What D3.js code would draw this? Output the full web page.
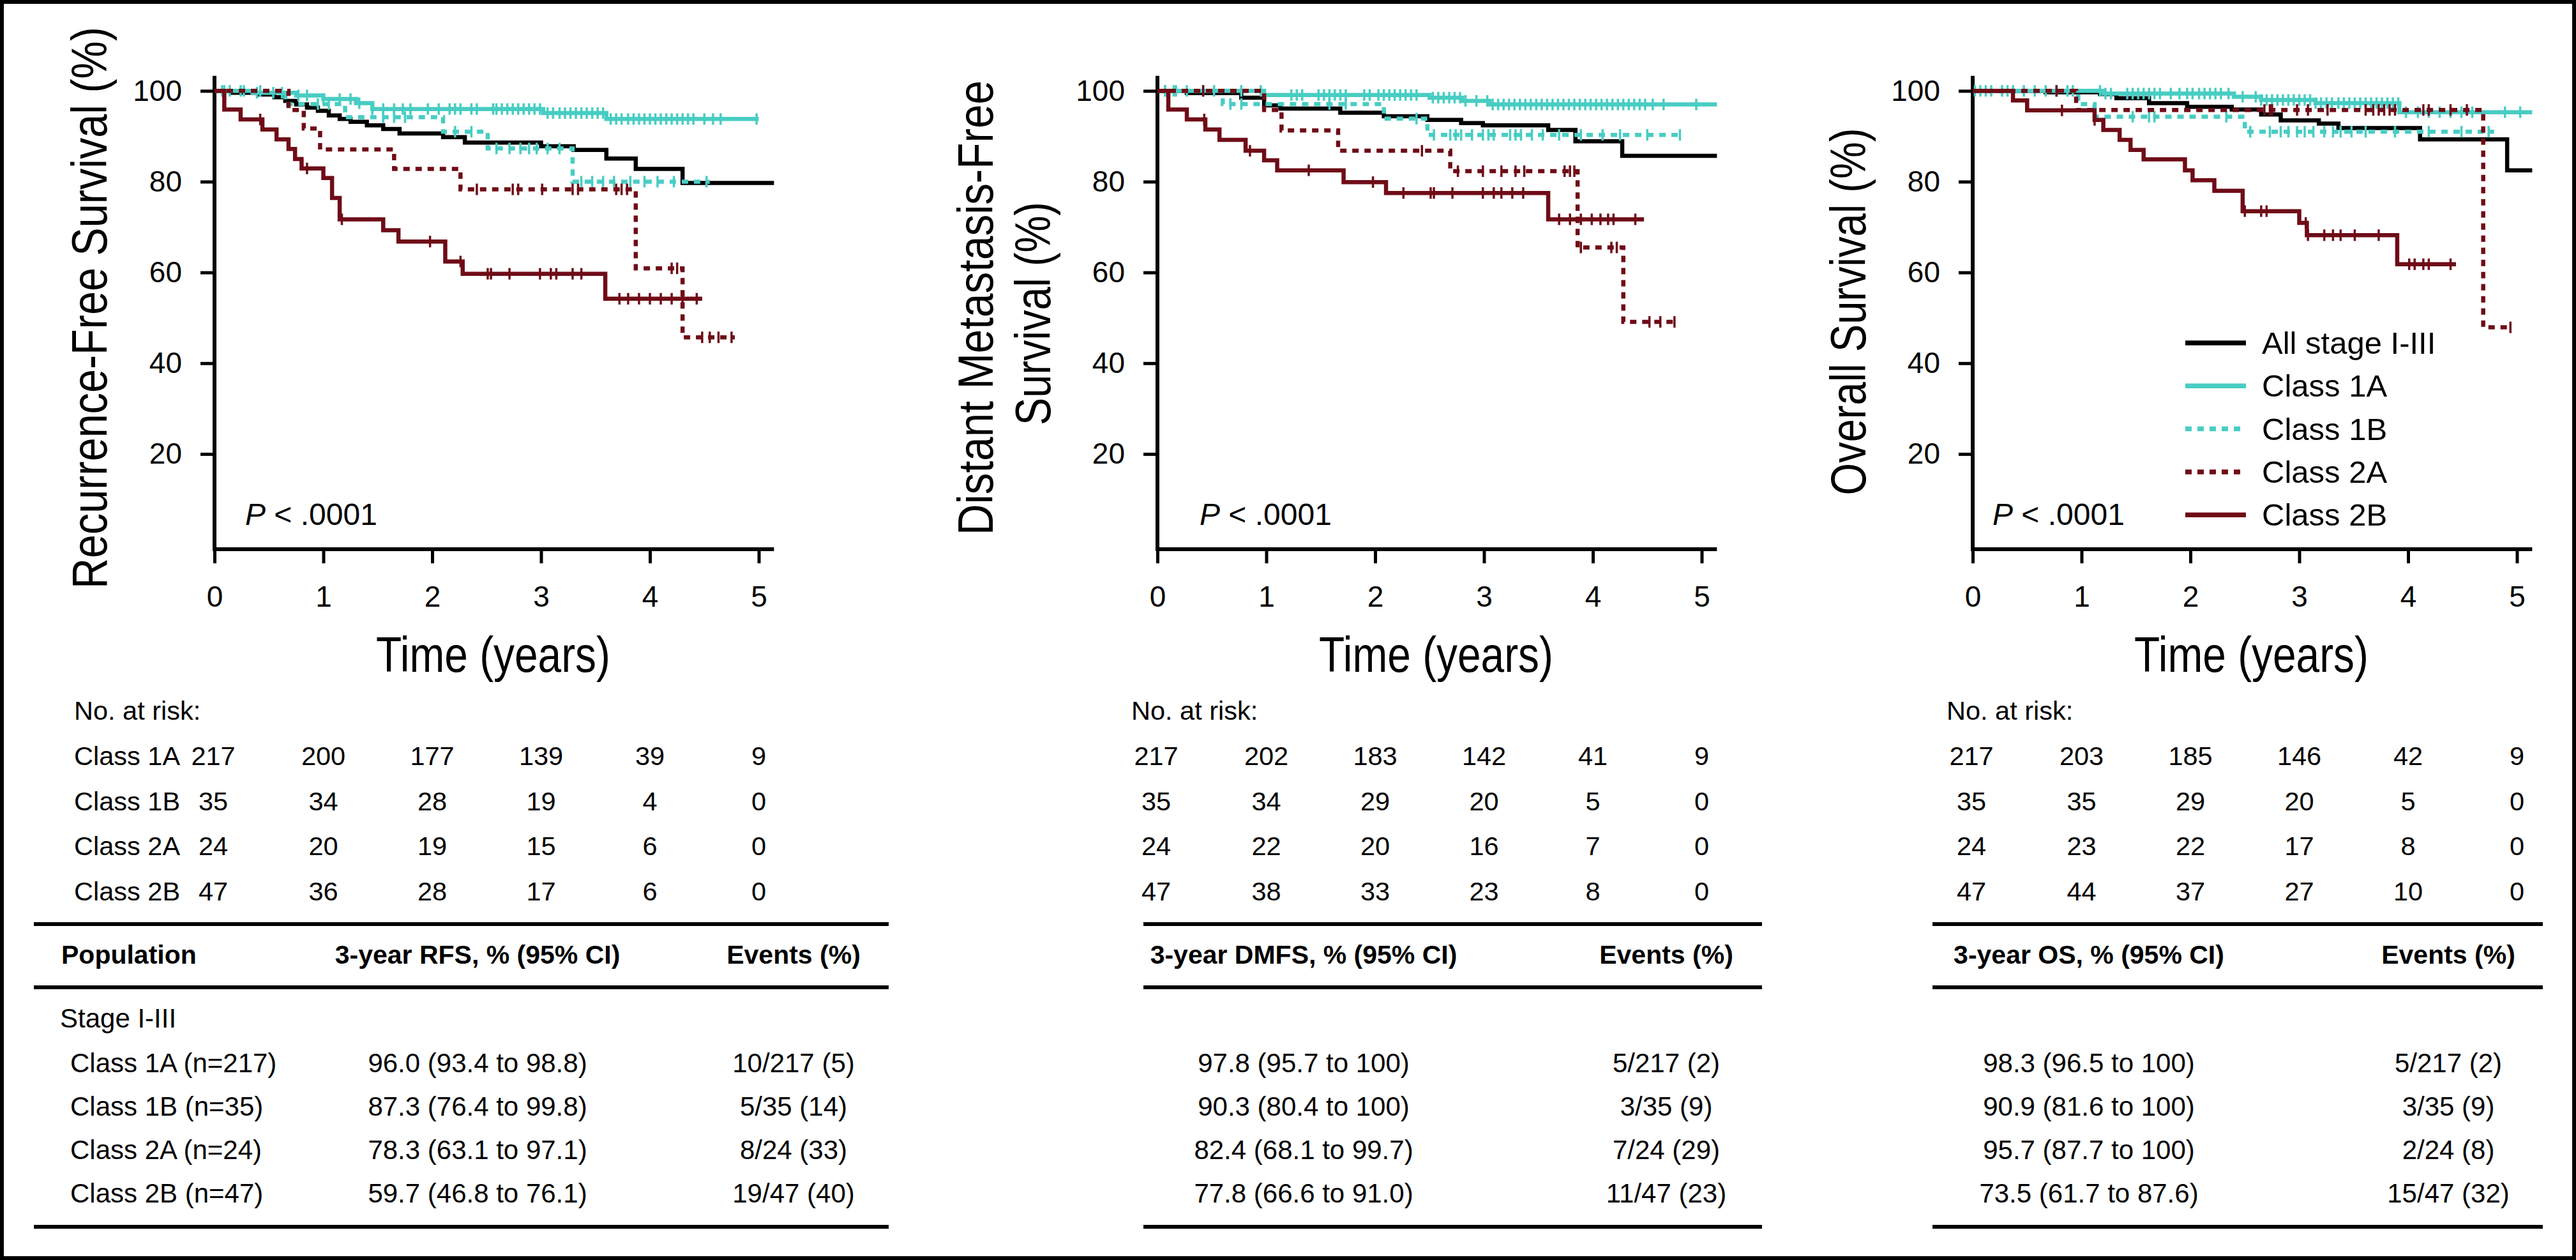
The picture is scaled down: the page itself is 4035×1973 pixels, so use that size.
<!DOCTYPE html>
<html><head><meta charset="utf-8">
<script src="https://cdn.jsdelivr.net/npm/d3@7"></script>
<style>
body{margin:0;background:#fff}
svg{display:block}
text{font-family:"Liberation Sans",Arial,Helvetica,sans-serif;fill:#000}
</style></head>
<body><svg id="chart" width="4035" height="1973"></svg>
<script>
// ---------------- DATA ----------------
const timeTicks = [0, 1, 2, 3, 4, 5];
const survTicks = [20, 40, 60, 80, 100];
const legendLabels = ["All stage I-III", "Class 1A", "Class 1B", "Class 2A", "Class 2B"];
const riskClasses = ["Class 1A", "Class 1B", "Class 2A", "Class 2B"];
const yTitles = [["Recurrence-Free Survival (%)"], ["Distant Metastasis-Free", "Survival (%)"], ["Overall Survival (%)"]];
const xTitle = "Time (years)";
const pValue = " < .0001";

// Kaplan-Meier steps: [time (years), survival % from that time]; last point = end of follow-up
const rfsAll = [[0,100],[0.15,99.6],[0.4,99.2],[0.55,98.6],[0.65,97.8],[0.75,97.0],[0.85,96.3],[0.95,95.6],[1.05,94.6],[1.15,93.8],[1.25,93.2],[1.4,92.4],[1.55,91.6],[1.7,90.6],[2.1,89.8],[2.3,88.6],[3.0,87.8],[3.3,87.0],[3.6,85.1],[3.87,82.8],[4.3,79.7],[5.14,79.7]];
const rfs1A = [[0,100],[0.35,99.6],[0.75,99.0],[1.0,98.2],[1.3,97.3],[1.45,96.0],[3.02,95.1],[3.6,93.8],[5.0,93.8]];
const rfs1B = [[0,100],[0.65,97.1],[1.2,94.2],[2.1,91.0],[2.51,87.3],[3.29,80.0],[4.55,80.0]];
const rfs2A = [[0,100],[0.68,95.8],[0.82,91.7],[0.97,87.1],[1.65,82.8],[2.26,78.3],[3.87,60.9],[4.3,45.7],[4.78,45.7]];
const rfs2B = [[0,100],[0.09,95.9],[0.24,93.7],[0.44,91.5],[0.57,89.3],[0.68,87.2],[0.74,85.0],[0.8,82.9],[1.0,80.8],[1.08,76.4],[1.15,71.7],[1.55,69.3],[1.69,66.8],[2.12,62.4],[2.28,59.7],[3.59,54.2],[4.48,54.2]];
const rfs1ACens = [0.07,0.14,0.27,0.39,0.54,0.62,0.77,0.85,1.0,1.15,1.25,1.33,1.45,1.55,1.65,1.73,1.8,1.96,2.06,2.16,2.21,2.26,2.36,2.41,2.56,2.59,2.64,2.69,2.74,2.79,2.84,2.89,2.94,2.99,3.06,3.11,3.17,3.22,3.27,3.32,3.37,3.42,3.47,3.52,3.57,3.64,3.69,3.74,3.8,3.85,3.9,3.95,4.0,4.05,4.1,4.15,4.2,4.25,4.3,4.35,4.4,4.5,4.58,4.65,4.98];
const rfs1BCens = [0.09,0.24,0.42,0.95,1.05,1.55,1.65,1.75,2.21,2.36,2.59,2.71,2.81,2.89,2.96,3.06,3.17,3.37,3.47,3.57,3.67,3.82,3.95,4.07,4.22,4.52];
const rfs2ACens = [2.41,2.74,2.79,3.01,3.29,3.34,3.69,3.74,3.79,4.2,4.25,4.48,4.55,4.63,4.75];
const rfs2BCens = [0.42,0.85,1.17,1.98,2.26,2.51,2.54,2.71,2.99,3.09,3.14,3.29,3.37,3.72,3.8,3.9,4.0,4.1,4.2,4.3,4.43];

const dmfsAll = [[0,100],[0.27,99.5],[0.77,98.5],[0.98,96.8],[1.13,96.1],[1.68,95.2],[2.08,94.4],[2.48,93.6],[2.79,92.9],[2.99,92.4],[3.59,91.4],[3.84,88.9],[4.27,85.7],[5.14,85.7]];
const dmfs1A = [[0,100],[0.98,99.1],[2.5,98.5],[2.8,97.8],[3.05,97.0],[5.14,97.0]];
const dmfs1B = [[0,100],[0.6,97.1],[2.08,93.9],[2.48,90.3],[4.82,90.3]];
const dmfs2A = [[0,100],[0.98,95.8],[1.14,91.3],[1.66,86.8],[2.69,82.3],[3.86,65.5],[4.28,49.1],[4.77,49.1]];
const dmfs2B = [[0,100],[0.1,95.9],[0.27,93.7],[0.44,91.5],[0.57,89.2],[0.81,86.8],[0.98,84.7],[1.1,82.5],[1.71,79.9],[2.1,77.5],[3.59,71.7],[4.47,71.7]];
const dmfs1ACens = [0.07,0.15,0.27,0.42,0.52,0.77,0.95,1.23,1.28,1.33,1.48,1.53,1.58,1.63,1.68,1.73,1.9,1.95,2.03,2.08,2.13,2.18,2.23,2.28,2.33,2.38,2.53,2.58,2.63,2.68,2.73,2.78,2.83,2.93,3.03,3.08,3.13,3.18,3.23,3.28,3.33,3.38,3.43,3.48,3.53,3.58,3.63,3.68,3.73,3.78,3.83,3.88,3.93,3.98,4.03,4.08,4.13,4.18,4.23,4.28,4.33,4.38,4.43,4.48,4.55,4.65,4.95];
const dmfs1BCens = [0.07,0.17,0.67,0.77,1.58,1.73,2.38,2.54,2.69,2.74,2.79,2.89,2.99,3.04,3.09,3.24,3.29,3.34,3.44,3.54,3.69,3.89,4.09,4.25,4.5,4.8];
const dmfs2ACens = [0.42,2.43,2.76,2.99,3.16,3.29,3.37,3.74,3.79,3.83,3.89,4.17,4.22,4.52,4.62,4.75];
const dmfs2BCens = [0.43,0.85,1.39,1.98,2.26,2.51,2.54,2.71,2.99,3.09,3.16,3.26,3.36,3.69,3.79,3.89,3.99,4.07,4.14,4.19,4.39];

const osAll = [[0,100],[0.67,99.7],[1.17,99.3],[1.32,98.4],[1.62,97.3],[1.97,96.5],[2.38,95.9],[2.65,94.8],[2.83,93.5],[3.18,92.8],[3.36,91.8],[4.11,89.3],[4.91,82.5],[5.14,82.5]];
const os1A = [[0,100],[1.2,99.4],[2.4,98.7],[2.65,98.0],[3.15,97.3],[3.92,95.3],[5.14,95.3]];
const os1B = [[0,100],[0.97,97.1],[1.12,94.3],[2.5,91.0],[4.79,91.0]];
const os2A = [[0,100],[0.95,95.8],[4.69,47.9],[4.96,47.9]];
const os2B = [[0,100],[0.37,97.9],[0.5,95.7],[1.12,93.6],[1.2,91.4],[1.35,89.2],[1.45,87.0],[1.57,84.9],[1.95,82.5],[2.02,80.3],[2.22,78.0],[2.48,73.5],[3.0,70.9],[3.07,68.2],[3.9,61.8],[4.44,61.8]];
const os1ACens = [0.02,0.07,0.17,0.27,0.37,0.47,0.57,0.67,0.77,0.92,1.17,1.22,1.27,1.42,1.47,1.52,1.57,1.62,1.67,1.72,1.82,1.9,1.97,2.02,2.08,2.13,2.18,2.23,2.28,2.35,2.48,2.6,2.65,2.7,2.75,2.8,2.85,2.9,2.95,3.0,3.05,3.1,3.15,3.2,3.25,3.3,3.36,3.41,3.46,3.51,3.56,3.61,3.66,3.71,3.76,3.81,3.86,3.91,3.98,4.09,4.19,4.29,4.39,4.49,4.59,4.89,5.03];
const os1BCens = [0.12,0.32,0.87,1.47,1.62,1.67,2.33,2.55,2.73,2.83,2.9,2.98,3.05,3.13,3.23,3.31,3.38,3.48,3.61,3.88,4.19,4.49,4.74];
const os2ACens = [0.77,2.68,2.73,2.75,2.98,3.08,3.26,3.61,3.68,3.73,3.78,3.83,3.88,4.14,4.19,4.39,4.54,4.94];
const os2BCens = [0.82,1.12,2.5,2.65,2.7,3.06,3.08,3.23,3.31,3.38,3.51,3.73,4.01,4.06,4.14,4.19,4.39];

// Numbers at risk at 0..5 years
const rfsRisk1A = [217,200,177,139,39,9], rfsRisk1B = [35,34,28,19,4,0], rfsRisk2A = [24,20,19,15,6,0], rfsRisk2B = [47,36,28,17,6,0];
const dmfsRisk1A = [217,202,183,142,41,9], dmfsRisk1B = [35,34,29,20,5,0], dmfsRisk2A = [24,22,20,16,7,0], dmfsRisk2B = [47,38,33,23,8,0];
const osRisk1A = [217,203,185,146,42,9], osRisk1B = [35,35,29,20,5,0], osRisk2A = [24,23,22,17,8,0], osRisk2B = [47,44,37,27,10,0];

// Summary table
const statHeaders = ["3-year RFS, % (95% CI)", "3-year DMFS, % (95% CI)", "3-year OS, % (95% CI)"];
const popLabels = ["Class 1A (n=217)", "Class 1B (n=35)", "Class 2A (n=24)", "Class 2B (n=47)"];
const rfsStat = ["96.0 (93.4 to 98.8)", "87.3 (76.4 to 99.8)", "78.3 (63.1 to 97.1)", "59.7 (46.8 to 76.1)"];
const rfsEvents = ["10/217 (5)", "5/35 (14)", "8/24 (33)", "19/47 (40)"];
const dmfsStat = ["97.8 (95.7 to 100)", "90.3 (80.4 to 100)", "82.4 (68.1 to 99.7)", "77.8 (66.6 to 91.0)"];
const dmfsEvents = ["5/217 (2)", "3/35 (9)", "7/24 (29)", "11/47 (23)"];
const osStat = ["98.3 (96.5 to 100)", "90.9 (81.6 to 100)", "95.7 (87.7 to 100)", "73.5 (61.7 to 87.6)"];
const osEvents = ["5/217 (2)", "3/35 (9)", "2/24 (8)", "15/47 (32)"];

// ---------------- DRAW ----------------
const W = 4035, H = 1973;
const TEAL = "#48cdc3", MAROON = "#6f0c17", BLACK = "#000";
const seriesStyle = [
  {color: BLACK, dash: null},
  {color: TEAL, dash: null},
  {color: TEAL, dash: "10,9"},
  {color: MAROON, dash: "10,9"},
  {color: MAROON, dash: null}
];
const svg = d3.select("#chart");
svg.append("rect").attr("x", 3).attr("y", 3).attr("width", W - 6).attr("height", H - 6)
  .attr("fill", "#fff").attr("stroke", "#000").attr("stroke-width", 6);

const panels = [
  {x0: 336, steps: [rfsAll, rfs1A, rfs1B, rfs2A, rfs2B], cens: [[], rfs1ACens, rfs1BCens, rfs2ACens, rfs2BCens],
   risk: [rfsRisk1A, rfsRisk1B, rfsRisk2A, rfsRisk2B], stat: rfsStat, events: rfsEvents,
   titleX: [167], titleY: [482], titleLen: [880], pX: 384, riskX: 116, showClass: true, legend: false,
   line: [53, 1392], headC: 748, evC: 1243},
  {x0: 1813, steps: [dmfsAll, dmfs1A, dmfs1B, dmfs2A, dmfs2B], cens: [[], dmfs1ACens, dmfs1BCens, dmfs2ACens, dmfs2BCens],
   risk: [dmfsRisk1A, dmfsRisk1B, dmfsRisk2A, dmfsRisk2B], stat: dmfsStat, events: dmfsEvents,
   titleX: [1555, 1645], titleY: [482, 491], titleLen: [712, 350], pX: 1879, riskX: 1772, showClass: false, legend: false,
   line: [1791, 2760], headC: 2042, evC: 2610},
  {x0: 3090, steps: [osAll, os1A, os1B, os2A, os2B], cens: [[], os1ACens, os1BCens, os2ACens, os2BCens],
   risk: [osRisk1A, osRisk1B, osRisk2A, osRisk2B], stat: osStat, events: osEvents,
   titleX: [2922], titleY: [488], titleLen: [575], pX: 3121, riskX: 3049, showClass: false, legend: true,
   line: [3027, 3983], headC: 3272, evC: 3835}
];

const PX_PER_YEAR = 170.5;
const riskRowY = [1198, 1268.5, 1339, 1409.5];
const bodyRowY = [1679, 1747, 1815, 1883];

function valueAt(steps, t) {
  let v = steps[0][1];
  for (const s of steps) { if (s[0] <= t) v = s[1]; }
  return v;
}

// condensed title text: scale along the baseline to the measured length
function condensedText(g, str, tx, ty, rot, len) {
  const t = g.append("text").attr("text-anchor", "middle").attr("font-size", 78).text(str);
  const natural = t.node().getComputedTextLength();
  const k = len / natural;
  t.attr("transform", `translate(${tx},${ty})${rot ? " rotate(-90)" : ""} scale(${k},1)`);
  return t;
}

panels.forEach((p, pi) => {
  const x = d3.scaleLinear().domain([0, 5.14]).range([p.x0, p.x0 + 5.14 * PX_PER_YEAR]);
  const y = d3.scaleLinear().domain([0, 100]).range([853, 142.3]);
  const g = svg.append("g");
  const axisY = y(-1);

  // axes
  const ya = g.append("g").attr("transform", `translate(${p.x0},0)`)
    .call(d3.axisLeft(y).tickValues(survTicks).tickFormat(d3.format("d")).tickSize(22).tickPadding(29).tickSizeOuter(0));
  ya.select(".domain").remove();
  ya.selectAll("line").attr("stroke", "#000").attr("stroke-width", 5);
  ya.selectAll("text").attr("font-size", 46).attr("font-family", "Liberation Sans, Arial, sans-serif");

  const xa = g.append("g").attr("transform", `translate(0,${axisY})`)
    .call(d3.axisBottom(x).tickValues(timeTicks).tickFormat(d3.format("d")).tickSize(22).tickPadding(35).tickSizeOuter(0));
  xa.select(".domain").remove();
  xa.selectAll("line").attr("stroke", "#000").attr("stroke-width", 5);
  xa.selectAll("text").attr("font-size", 46).attr("font-family", "Liberation Sans, Arial, sans-serif");

  g.append("line").attr("x1", p.x0).attr("x2", p.x0).attr("y1", y(103.3)).attr("y2", axisY + 3)
    .attr("stroke", "#000").attr("stroke-width", 6);
  g.append("line").attr("x1", p.x0 - 3).attr("x2", x(5.14)).attr("y1", axisY).attr("y2", axisY)
    .attr("stroke", "#000").attr("stroke-width", 6);

  // curves
  const line = d3.line().x(d => x(d[0])).y(d => y(d[1])).curve(d3.curveStepAfter);
  p.steps.forEach((st, si) => {
    const s = seriesStyle[si];
    g.append("path").attr("d", line(st)).attr("fill", "none").attr("stroke", s.color)
      .attr("stroke-width", 6.5).attr("stroke-dasharray", s.dash);
    g.selectAll(null).data(p.cens[si]).enter().append("line")
      .attr("x1", d => x(d)).attr("x2", d => x(d))
      .attr("y1", d => y(valueAt(st, d)) - 9).attr("y2", d => y(valueAt(st, d)) + 9)
      .attr("stroke", s.color).attr("stroke-width", 3.5);
  });

  // titles
  yTitles[pi].forEach((t, li) => condensedText(g, t, p.titleX[li], p.titleY[li], true, p.titleLen[li]));
  condensedText(g, xTitle, x(2.56), 1052, false, 367);

  const pt = g.append("text").attr("x", p.pX).attr("y", 822).attr("font-size", 48);
  pt.append("tspan").attr("font-style", "italic").text("P");
  pt.append("tspan").text(pValue);

  // legend
  if (p.legend) {
    legendLabels.forEach((lab, i) => {
      const ly = 537 + i * 67.3;
      const s = seriesStyle[i];
      g.append("line").attr("x1", 3423).attr("x2", 3518).attr("y1", ly).attr("y2", ly)
        .attr("stroke", s.color).attr("stroke-width", 7.5).attr("stroke-dasharray", s.dash);
      g.append("text").attr("x", 3543).attr("y", ly + 17).attr("font-size", 49).text(lab);
    });
  }

  // number at risk
  g.append("text").attr("x", p.riskX).attr("y", 1127).attr("font-size", 41.5).text("No. at risk:");
  p.risk.forEach((row, ri) => {
    if (p.showClass) g.append("text").attr("x", 116).attr("y", riskRowY[ri]).attr("font-size", 41.5).text(riskClasses[ri]);
    g.selectAll(null).data(row).enter().append("text")
      .attr("x", (d, i) => x(timeTicks[i]) - (i === 0 ? 2 : 0)).attr("y", riskRowY[ri])
      .attr("text-anchor", "middle").attr("font-size", 41.5).text(d => d);
  });

  // summary table
  [1447, 1546, 1921].forEach(ly => g.append("line").attr("x1", p.line[0]).attr("x2", p.line[1])
    .attr("y1", ly).attr("y2", ly).attr("stroke", "#000").attr("stroke-width", 6));
  if (pi === 0) {
    g.append("text").attr("x", 96).attr("y", 1509).attr("font-size", 41).attr("font-weight", "bold").text("Population");
    g.append("text").attr("x", 94).attr("y", 1609).attr("font-size", 42).text("Stage I-III");
    popLabels.forEach((lab, i) => g.append("text").attr("x", 110).attr("y", bodyRowY[i]).attr("font-size", 42).text(lab));
  }
  g.append("text").attr("x", p.headC).attr("y", 1509).attr("text-anchor", "middle").attr("font-size", 41)
    .attr("font-weight", "bold").text(statHeaders[pi]);
  g.append("text").attr("x", p.evC).attr("y", 1509).attr("text-anchor", "middle").attr("font-size", 41)
    .attr("font-weight", "bold").text("Events (%)");
  p.stat.forEach((v, i) => g.append("text").attr("x", p.headC).attr("y", bodyRowY[i]).attr("text-anchor", "middle")
    .attr("font-size", 42).text(v));
  p.events.forEach((v, i) => g.append("text").attr("x", p.evC).attr("y", bodyRowY[i]).attr("text-anchor", "middle")
    .attr("font-size", 42).text(v));
});
</script></body></html>
